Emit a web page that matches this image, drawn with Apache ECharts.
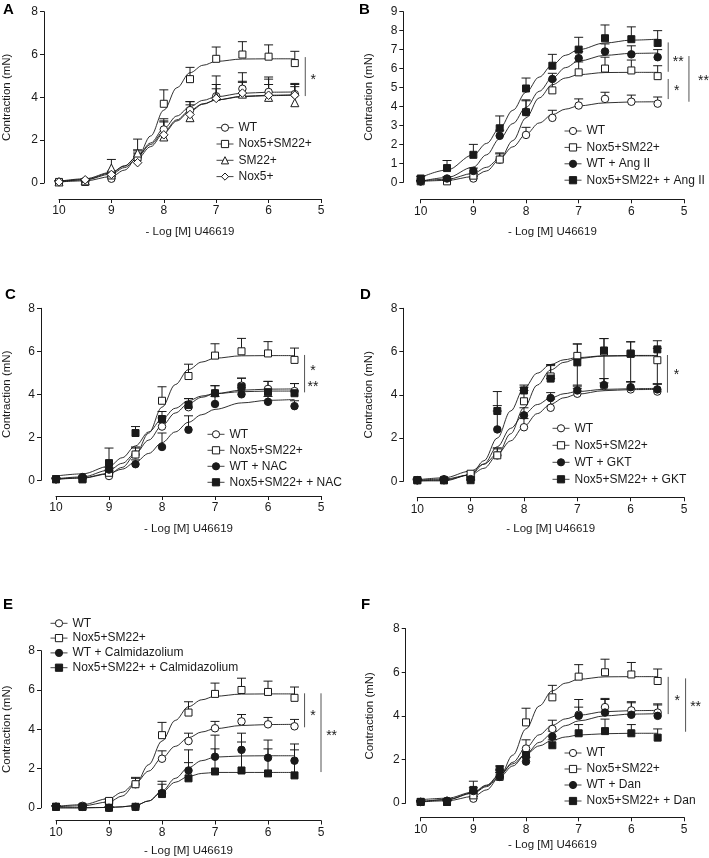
<!DOCTYPE html>
<html><head><meta charset="utf-8">
<script src="https://cdn.jsdelivr.net/npm/echarts@6/dist/echarts.min.js"></script>
<style>html,body{margin:0;padding:0;background:#fff}#c{width:709px;height:858px}</style>
</head><body><div id="c"></div>
<script>
// ---- data (x = -log[M] U46619) ----
const doses = [10, 9.5, 9, 8.5, 8, 7.5, 7, 6.5, 6, 5.5];
const fitDoses = [10, 9.5, 9, 8.75, 8.5, 8.25, 8, 7.75, 7.5, 7.25, 7, 6.5, 6, 5.5];
const xTicks = [10, 9, 8, 7, 6, 5];

const wtMean = [0.05, 0.1, 0.2, 1.2, 2.5, 3.4, 4.05, 4.4, 4.25, 4.15];
const wtUpper = [0.1, 0.15, 0.3, 1.5, 2.9, 3.8, 4.4, 4.75, 4.6, 4.5];
const wtFit = [0.07, 0.16, 0.47, 0.79, 1.26, 1.87, 2.54, 3.13, 3.57, 3.86, 4.03, 4.19, 4.24, 4.25];

const noxSmMean = [0.05, 0.05, 0.35, 1.2, 3.7, 4.85, 5.8, 6.0, 5.9, 5.6];
const noxSmUpper = [0.1, 0.1, 0.45, 1.55, 4.35, 5.4, 6.35, 6.6, 6.45, 6.15];
const noxSmFit = [0.05, 0.1, 0.3, 0.6, 1.2, 2.2, 3.4, 4.45, 5.15, 5.5, 5.68, 5.79, 5.8, 5.8];

const sm22Mean = [0.05, 0.1, 0.7, 1.4, 2.15, 3.05, 4.05, 4.15, 4.0, 3.75];
const sm22Upper = [0.1, 0.15, 1.1, 2.05, 3.0, 3.65, 5.0, 5.15, 4.95, 4.65];
const sm22Fit = [0.08, 0.2, 0.5, 0.8, 1.25, 1.8, 2.4, 2.95, 3.4, 3.7, 3.88, 4.03, 4.08, 4.1];

const nox5Mean = [0.05, 0.15, 0.4, 0.95, 2.25, 3.2, 3.95, 4.2, 4.1, 4.1];
const nox5Upper = [0.1, 0.2, 0.55, 1.4, 2.85, 3.8, 4.6, 4.7, 4.85, 4.6];
const nox5Fit = [0.06, 0.15, 0.42, 0.72, 1.15, 1.7, 2.33, 2.9, 3.35, 3.68, 3.88, 4.05, 4.1, 4.12];

const wtAngMean = [0.05, 0.2, 0.6, 2.45, 3.7, 5.45, 6.55, 6.9, 6.75, 6.6];
const wtAngUpper = [0.1, 0.3, 0.75, 2.75, 4.3, 5.75, 6.9, 7.3, 7.2, 7.0];
const wtAngFit = [0.05, 0.25, 0.8, 1.45, 2.3, 3.1, 3.95, 4.8, 5.5, 6.05, 6.4, 6.7, 6.8, 6.82];

const noxSmAngMean = [0.2, 0.75, 1.45, 2.85, 4.95, 6.15, 7.0, 7.6, 7.55, 7.35];
const noxSmAngUpper = [0.3, 1.15, 2.0, 3.5, 5.5, 6.75, 7.65, 8.3, 8.2, 8.0];
const noxSmAngFit = [0.25, 0.65, 1.45, 2.05, 2.85, 3.8, 4.75, 5.55, 6.2, 6.7, 7.0, 7.35, 7.5, 7.55];

const wtNacMean = [0.05, 0.15, 0.5, 0.75, 1.55, 2.35, 3.55, 4.0, 3.65, 3.45];
const wtNacUpper = [0.1, 0.2, 0.6, 0.95, 2.2, 3.0, 3.9, 4.3, 3.9, 3.7];
const wtNacFit = [0.05, 0.12, 0.32, 0.52, 0.85, 1.25, 1.75, 2.25, 2.7, 3.05, 3.3, 3.6, 3.72, 3.76];

const noxSmNacMean = [0.05, 0.05, 0.8, 2.2, 2.85, 3.5, 4.05, 4.35, 4.1, 4.05];
const noxSmNacUpper = [0.1, 0.1, 1.5, 2.5, 3.2, 3.8, 4.4, 4.75, 4.6, 4.5];
const noxSmNacFit = [0.2, 0.3, 0.65, 1.05, 1.6, 2.25, 2.85, 3.35, 3.7, 3.92, 4.03, 4.12, 4.15, 4.15];

const wtGktMean = [0.05, 0.05, 0.1, 2.4, 3.05, 3.85, 4.2, 4.45, 4.35, 4.25];
const wtGktUpper = [0.1, 0.1, 0.2, 3.5, 3.4, 4.1, 4.45, 4.75, 4.6, 4.5];
const wtGktFit = [0.02, 0.05, 0.3, 0.8, 1.6, 2.45, 3.1, 3.55, 3.85, 4.05, 4.15, 4.25, 4.28, 4.3];

const noxSmGktMean = [0.05, 0.05, 0.05, 3.25, 4.2, 4.75, 5.5, 6.05, 5.9, 6.1];
const noxSmGktUpper = [0.1, 0.1, 0.1, 4.15, 4.45, 5.35, 6.35, 6.6, 6.45, 6.5];
const noxSmGktLower = [0.05, 0.05, 0.05, 3.25, 4.2, 4.75, 4.3, 4.55, 4.6, 4.5];
const noxSmGktFit = [0.02, 0.02, 0.3, 0.95, 2.0, 3.25, 4.3, 5.0, 5.4, 5.62, 5.72, 5.8, 5.82, 5.82];

const wtCalMean = [0.05, 0.05, 0.0, 0.05, 0.75, 1.9, 2.6, 2.95, 2.55, 2.4];
const wtCalUpper = [0.1, 0.1, 0.05, 0.1, 1.35, 2.95, 3.7, 3.8, 3.45, 3.25];
const wtCalFit = [0, 0, 0.02, 0.05, 0.12, 0.35, 0.85, 1.5, 2.05, 2.4, 2.58, 2.64, 2.65, 2.65];

const noxSmCalMean = [0.05, 0.05, 0.0, 0.05, 0.7, 1.5, 1.85, 1.9, 1.75, 1.65];
const noxSmCalUpper = [0.1, 0.1, 0.05, 0.1, 1.2, 2.3, 3.0, 3.35, 3.0, 2.95];
const noxSmCalFit = [0, 0, 0.02, 0.05, 0.12, 0.35, 0.8, 1.3, 1.6, 1.75, 1.8, 1.8, 1.8, 1.8];

const wtDanMean = [0.05, 0.1, 0.55, 1.2, 1.9, 3.05, 4.0, 4.15, 4.05, 4.0];
const wtDanUpper = [0.1, 0.2, 0.7, 1.4, 2.1, 3.3, 4.75, 4.8, 4.65, 4.55];
const wtDanFit = [0.05, 0.15, 0.45, 0.75, 1.2, 1.7, 2.25, 2.78, 3.2, 3.55, 3.77, 4.0, 4.08, 4.1];

const noxSmDanMean = [0.05, 0.05, 0.6, 1.55, 2.2, 2.65, 3.2, 3.3, 3.2, 3.0];
const noxSmDanUpper = [0.1, 0.1, 1.0, 1.7, 2.4, 2.9, 3.6, 3.85, 3.6, 3.4];
const noxSmDanFit = [0.15, 0.22, 0.5, 0.82, 1.3, 1.8, 2.25, 2.62, 2.88, 3.03, 3.12, 3.18, 3.2, 3.2];

// significance brackets: [x, yTop, yBottom]; stars: [x, y, count]
const bracketsA = [[5.30, 5.88, 4.06]];
const starsA = [[5.15, 4.95, 1]];
const bracketsB = [[5.30, 7.38, 5.83], [5.30, 5.45, 4.39], [4.906, 6.66, 4.25]];
const starsB = [[5.11, 6.5, 2], [5.14, 4.96, 1], [4.63, 5.52, 2]];
const bracketsC = [[5.31, 5.83, 4.09]];
const starsC = [[5.15, 5.21, 1], [5.15, 4.49, 2]];
const bracketsD = [[5.31, 5.84, 4.10]];
const starsD = [[5.14, 5.07, 1]];
const bracketsE = [[5.31, 5.83, 4.1], [5.0, 5.83, 1.82]];
const starsE = [[5.15, 4.82, 1], [4.80, 3.8, 2]];
const bracketsF = [[5.30, 5.79, 4.08], [4.97, 5.72, 3.27]];
const starsF = [[5.13, 4.80, 1], [4.78, 4.53, 2]];

// ---- styling / layout ----
const FONT = '"Liberation Sans", Arial, Helvetica, sans-serif';
const INK = '#1a1a1a';

const WT = {name: 'WT', mean: wtMean, upper: wtUpper, fit: wtFit, symbol: 'circle', filled: false};
const NS = {name: 'Nox5+SM22+', mean: noxSmMean, upper: noxSmUpper, fit: noxSmFit, symbol: 'rect', filled: false};

const panels = [
  {letter: 'A', lx: 3, ly: 2, grid: {left: 57.7, top: 11.7, width: 263.3, height: 171.3}, yMax: 8, yInt: 2, yOff: 15, xOff: 16, xGap: 27, yGap: 31,
   legend: {left: 216, top: 121.7, gap: 4.3},
   groups: [WT, NS,
     {name: 'SM22+', mean: sm22Mean, upper: sm22Upper, fit: sm22Fit, symbol: 'triangle', filled: false},
     {name: 'Nox5+', mean: nox5Mean, upper: nox5Upper, fit: nox5Fit, symbol: 'diamond', filled: false}],
   brackets: bracketsA, stars: starsA},
  {letter: 'B', lx: 359, ly: 2, grid: {left: 420.7, top: 11.7, width: 263.3, height: 170.6}, yMax: 9, yInt: 1, yOff: 17.4, xOff: 17, xGap: 26.5, yGap: 28,
   legend: {left: 564, top: 125, gap: 4.4},
   groups: [WT, NS,
     {name: 'WT + Ang II', mean: wtAngMean, upper: wtAngUpper, fit: wtAngFit, symbol: 'circle', filled: true},
     {name: 'Nox5+SM22+ + Ang II', mean: noxSmAngMean, upper: noxSmAngUpper, fit: noxSmAngFit, symbol: 'rect', filled: true}],
   brackets: bracketsB, stars: starsB},
  {letter: 'C', lx: 5, ly: 287.5, grid: {left: 54.3, top: 308.3, width: 266.7, height: 172}, yMax: 8, yInt: 2, yOff: 15, xOff: 15.7, xGap: 26.8, yGap: 28,
   legend: {left: 207, top: 428.3, gap: 4},
   groups: [WT, NS,
     {name: 'WT + NAC', mean: wtNacMean, upper: wtNacUpper, fit: wtNacFit, symbol: 'circle', filled: true},
     {name: 'Nox5+SM22+ + NAC', mean: noxSmNacMean, upper: noxSmNacUpper, fit: noxSmNacFit, symbol: 'rect', filled: true}],
   brackets: bracketsC, stars: starsC},
  {letter: 'D', lx: 360, ly: 287.5, grid: {left: 417.3, top: 308.3, width: 266.7, height: 173}, yMax: 8, yInt: 2, yOff: 14, xOff: 16, xGap: 25.5, yGap: 28,
   legend: {left: 552, top: 422.3, gap: 5},
   groups: [WT, NS,
     {name: 'WT + GKT', mean: wtGktMean, upper: wtGktUpper, fit: wtGktFit, symbol: 'circle', filled: true},
     {name: 'Nox5+SM22+ + GKT', mean: noxSmGktMean, upper: noxSmGktUpper, lower: noxSmGktLower, fit: noxSmGktFit, symbol: 'rect', filled: true}],
   brackets: bracketsD, stars: starsD},
  {letter: 'E', lx: 3, ly: 597.5, grid: {left: 54.3, top: 650.7, width: 266.7, height: 157.3}, yMax: 8, yInt: 2, yOff: 15, xOff: 12.7, xGap: 24.5, yGap: 28,
   legend: {left: 50, top: 617.3, gap: 2.8},
   groups: [WT, NS,
     {name: 'WT + Calmidazolium', mean: wtCalMean, upper: wtCalUpper, fit: wtCalFit, symbol: 'circle', filled: true},
     {name: 'Nox5+SM22+ + Calmidazolium', mean: noxSmCalMean, upper: noxSmCalUpper, fit: noxSmCalFit, symbol: 'rect', filled: true}],
   brackets: bracketsE, stars: starsE},
  {letter: 'F', lx: 361, ly: 597.5, grid: {left: 420.7, top: 628.7, width: 263.3, height: 174.3}, yMax: 8, yInt: 2, yOff: 15, xOff: 14.3, xGap: 21.5, yGap: 30,
   legend: {left: 564, top: 747, gap: 4},
   groups: [WT, NS,
     {name: 'WT + Dan', mean: wtDanMean, upper: wtDanUpper, fit: wtDanFit, symbol: 'circle', filled: true},
     {name: 'Nox5+SM22+ + Dan', mean: noxSmDanMean, upper: noxSmDanUpper, fit: noxSmDanFit, symbol: 'rect', filled: true}],
   brackets: bracketsF, stars: starsF}
];

const symSize = {circle: 7.5, rect: 7, triangle: 8, diamond: 8.5};

function errRender(params, api) {
  const x = api.value(0), y = api.value(1), e = api.value(2);
  const p1 = api.coord([x, y]), p2 = api.coord([x, e]);
  const w = 4.5;
  const st = {stroke: INK, lineWidth: 1};
  return {type: 'group', children: [
    {type: 'line', shape: {x1: p1[0], y1: p1[1], x2: p2[0], y2: p2[1]}, style: st},
    {type: 'line', shape: {x1: p2[0] - w, y1: p2[1], x2: p2[0] + w, y2: p2[1]}, style: st}
  ]};
}
function bracketRender(params, api) {
  const a = api.coord([api.value(0), api.value(1)]), b = api.coord([api.value(0), api.value(2)]);
  return {type: 'line', shape: {x1: a[0], y1: a[1], x2: b[0], y2: b[1]}, style: {stroke: '#555', lineWidth: 1}};
}
function starRender(params, api) {
  const p = api.coord([api.value(0), api.value(1)]);
  return {type: 'text', x: p[0], y: p[1] + 3, style: {text: '*'.repeat(api.value(2)), font: '14px ' + FONT, fill: INK, align: 'center', verticalAlign: 'middle'}};
}

const grid = [], xAxis = [], yAxis = [], series = [], legend = [], graphic = [];
panels.forEach((P, p) => {
  grid.push(Object.assign({containLabel: false}, P.grid));
  xAxis.push({type: 'value', gridIndex: p, min: 5, max: 10, interval: 1, inverse: true, offset: P.xOff,
    axisLine: {show: true, onZero: false, lineStyle: {color: INK, width: 1}},
    axisTick: {show: true, length: 4, lineStyle: {color: INK, width: 1}},
    axisLabel: {fontSize: 12, color: INK, fontFamily: FONT, margin: 6,
      customValues: xTicks, formatter: v => String(v)},
    splitLine: {show: false},
    name: '- Log [M] U46619', nameLocation: 'middle', nameGap: P.xGap,
    nameTextStyle: {fontSize: 11.5, color: INK, fontFamily: FONT}});
  yAxis.push({type: 'value', gridIndex: p, min: 0, max: P.yMax, interval: P.yInt, offset: P.yOff,
    axisLine: {show: true, onZero: false, lineStyle: {color: INK, width: 1}},
    axisTick: {show: true, length: 4, lineStyle: {color: INK, width: 1}},
    axisLabel: {fontSize: 12, color: INK, fontFamily: FONT, margin: 6},
    splitLine: {show: false},
    name: 'Contraction (mN)', nameLocation: 'middle', nameGap: P.yGap, nameRotate: 90,
    nameTextStyle: {fontSize: 11.5, color: INK, fontFamily: FONT}});
  P.groups.forEach((g, gi) => {
    series.push({type: 'line', name: '_fit_' + p + '_' + gi, xAxisIndex: p, yAxisIndex: p,
      data: fitDoses.map((x, i) => [x, g.fit[i]]), smooth: 0.35, smoothMonotone: 'x',
      symbol: 'none', showSymbol: false, lineStyle: {color: INK, width: 0.9}, silent: true, z: 2, clip: false});
    series.push({type: 'custom', name: '_err_' + p + '_' + gi, xAxisIndex: p, yAxisIndex: p, renderItem: errRender,
      data: doses.map((x, i) => [x, g.mean[i], g.upper[i]]), encode: {x: 0, y: 1}, silent: true, z: 3, clip: false});
    if (g.lower) {
      series.push({type: 'custom', name: '_errl_' + p + '_' + gi, xAxisIndex: p, yAxisIndex: p, renderItem: errRender,
        data: doses.map((x, i) => [x, g.mean[i], g.lower[i]]), encode: {x: 0, y: 1}, silent: true, z: 3, clip: false});
    }
  });
  P.groups.forEach((g, gi) => {
    series.push({type: 'line', name: g.name, xAxisIndex: p, yAxisIndex: p,
      data: doses.map((x, i) => [x, g.mean[i]]), symbol: g.symbol, symbolSize: symSize[g.symbol], showSymbol: true,
      itemStyle: {color: g.filled ? INK : '#fff', borderColor: INK, borderWidth: 1},
      lineStyle: {width: 0, opacity: 0}, silent: true, z: 4, zlevel: 0, clip: false, animation: false});
  });
  series.push({type: 'custom', name: '_br_' + p, xAxisIndex: p, yAxisIndex: p, renderItem: bracketRender,
    data: P.brackets, encode: {x: 0, y: 1}, silent: true, z: 3, clip: false});
  series.push({type: 'custom', name: '_st_' + p, xAxisIndex: p, yAxisIndex: p, renderItem: starRender,
    data: P.stars, encode: {x: 0, y: 1}, silent: true, z: 3, clip: false});
  legend.push({show: true, orient: 'vertical', left: P.legend.left, top: P.legend.top, itemGap: P.legend.gap,
    itemWidth: 17, itemHeight: 9, padding: 0, selectedMode: false,
    data: P.groups.map(g => g.name),
    textStyle: {fontSize: 12, color: INK, fontFamily: FONT},
    itemStyle: {borderWidth: 1, borderColor: INK},
    lineStyle: {color: '#444', width: 1, opacity: 1, type: 'solid'}});
  graphic.push({type: 'text', left: P.lx, top: P.ly, style: {text: P.letter, font: 'bold 15px ' + FONT, fill: '#000'}});
});

const chart = echarts.init(document.getElementById('c'), null, {renderer: 'canvas'});
chart.setOption({animation: false, backgroundColor: '#fff', grid, xAxis, yAxis, series, legend, graphic});
</script></body></html>
